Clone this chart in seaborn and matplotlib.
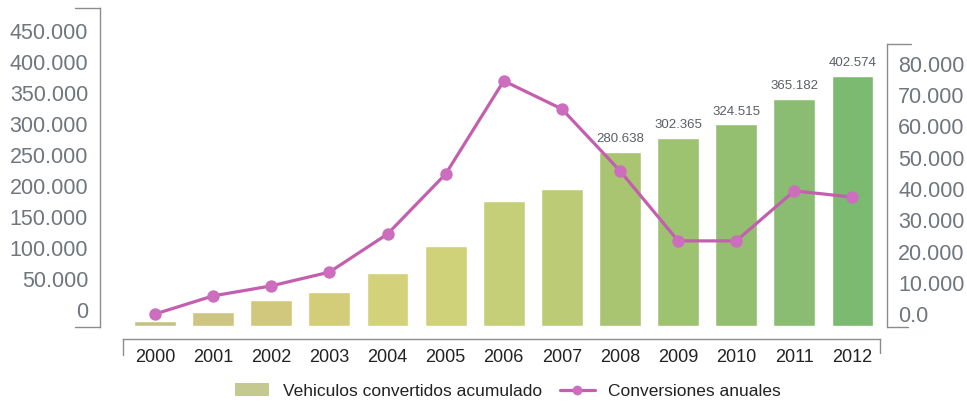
import matplotlib
matplotlib.use("Agg")
import matplotlib.pyplot as plt
from matplotlib.lines import Line2D
from matplotlib.patches import Patch
from matplotlib.ticker import FixedLocator, FuncFormatter
import matplotlib.transforms as mtransforms
import numpy as np
import pandas as pd
import seaborn as sns

# ---- data -----------------------------------------------------------------
years = ["2000", "2001", "2002", "2003", "2004", "2005", "2006",
         "2007", "2008", "2009", "2010", "2011", "2012"]
cumulative = [8000, 22500, 41900, 54800, 85300, 128800, 201800,
              220600, 280638, 302365, 324515, 365182, 402574]
annual = [0, 5800, 9000, 13400, 25600, 44800, 74600,
          65600, 45800, 23400, 23400, 39400, 37400]
labelled_years = ["2008", "2009", "2010", "2011", "2012"]

left_ticks = [0, 50000, 100000, 150000, 200000, 250000,
              300000, 350000, 400000, 450000]
right_ticks = [0, 10000, 20000, 30000, 40000, 50000, 60000, 70000, 80000]

bar_name = "Vehiculos convertidos acumulado"
line_name = "Conversiones anuales"

bar_colors = ["#c6c184", "#cfc582", "#d1c77d", "#d3cd7a", "#d3d27a",
              "#cfd279", "#c5cf78", "#bccc76", "#a9c572", "#9dc270",
              "#94bf70", "#8abd71", "#7bba70"]
legend_patch_color = "#c4c98f"
line_color = "#c35fae"
marker_color = "#cc6dbd"
tick_gray = "#6f767d"
frame_gray = "#8c8c8c"

df = pd.DataFrame({"year": years, "cumulative": cumulative, "annual": annual})

# ---- figure ---------------------------------------------------------------
sns.set_theme(style="white")
plt.rcParams["font.family"] = ["Liberation Sans", "DejaVu Sans"]

W, H, DPI = 967, 404, 100
fig = plt.figure(figsize=(W / DPI, H / DPI), dpi=DPI)

# axes frame in pixel terms
px_left, px_right, px_top, px_bottom = 100, 887, 8, 327
ax = fig.add_axes([px_left / W, 1 - px_bottom / H,
                   (px_right - px_left) / W, (px_bottom - px_top) / H])
ax.set_facecolor("none")

sns.barplot(data=df, x="year", y="cumulative", hue="year",
            palette=bar_colors, legend=False, width=0.72,
            saturation=1, ax=ax)

ax2 = ax.twinx()
sns.pointplot(data=df, x="year", y="annual", color=line_color,
              markers="o", markersize=7.2, linewidth=2.3, ax=ax2)
for ln in ax2.lines:
    ln.set_markerfacecolor(marker_color)
    ln.set_markeredgecolor(marker_color)

# scales
ax.set_xlim(-0.947, 12.594)
ax2.set_xlim(-0.947, 12.594)
ax.set_ylim(-1610, 512000)
ax2.set_ylim(-4160, 97920)

def es_thousands(v, zero="0"):
    if v == 0:
        return zero
    return f"{int(round(v)):,}".replace(",", ".")

ax.yaxis.set_major_locator(FixedLocator(left_ticks))
ax.yaxis.set_major_formatter(FuncFormatter(lambda v, p: es_thousands(v, "0")))
ax2.yaxis.set_major_locator(FixedLocator(right_ticks))
ax2.yaxis.set_major_formatter(FuncFormatter(lambda v, p: es_thousands(v, "0.0")))

ax.set_xlabel("")
ax.set_ylabel("")
ax2.set_xlabel("")
ax2.set_ylabel("")

ax.tick_params(axis="y", length=0, pad=8.6, labelsize=15.5, labelcolor=tick_gray)
ax2.tick_params(axis="y", length=0, pad=8, labelsize=15.5, labelcolor=tick_gray)
ax.tick_params(axis="x", length=0, pad=7, labelsize=13, labelcolor="#222222")
ax2.tick_params(axis="x", length=0, labelbottom=False)

# left labels sit a little above their gridline values
shift = mtransforms.ScaledTranslation(0, 16 / DPI, fig.dpi_scale_trans)
for lbl in ax.get_yticklabels():
    lbl.set_transform(lbl.get_transform() + shift)

# spines
for s in ["top", "right"]:
    ax.spines[s].set_visible(False)
for s in ["top", "left", "bottom"]:
    ax2.spines[s].set_visible(False)
ax.spines["left"].set_color(frame_gray)
ax.spines["left"].set_linewidth(1.0)
ax2.spines["right"].set_color(frame_gray)
ax2.spines["right"].set_linewidth(1.0)
ax2.spines["right"].set_bounds(-4160, 86400)
ax.spines["bottom"].set_color(frame_gray)
ax.spines["bottom"].set_linewidth(1.0)
ax.spines["bottom"].set_position(("outward", 12 * 0.72))
ax.spines["bottom"].set_bounds(-0.55, 12.48)

# bracket end caps
def fig_line(x0, y0, x1, y1):
    fig.add_artist(Line2D([x0 / W, x1 / W], [1 - y0 / H, 1 - y1 / H],
                          color=frame_gray, lw=1.0))

fig_line(75, px_top, px_left, px_top)
fig_line(75, px_bottom, px_left, px_bottom)
fig_line(px_right, 44, 911, 44)
fig_line(px_right, px_bottom, 908, px_bottom)
fig_line(123, 339, 123, 355)
fig_line(880, 339, 880, 353)

# value labels on the latest bars
bar_container = ax.containers
labels_all = []
for yr, v in zip(years, cumulative):
    labels_all.append(es_thousands(v) if yr in labelled_years else "")
patches = [c.patches[0] for c in bar_container] if len(bar_container) == len(years) else list(bar_container[0].patches)
for p, txt in zip(patches, labels_all):
    if txt:
        ax.annotate(txt, (p.get_x() + p.get_width() / 2, p.get_height()),
                    xytext=(0, 5), textcoords="offset points",
                    ha="center", va="bottom", fontsize=9.5, color="#5a5f66")

# legend
handles = [Patch(facecolor=legend_patch_color, edgecolor="none", label=bar_name),
           Line2D([0], [0], color=line_color, lw=2.3, marker="o",
                  markersize=6, markerfacecolor=marker_color,
                  markeredgecolor=marker_color, label=line_name)]
fig.legend(handles=handles, loc="center", bbox_to_anchor=(508 / W, 1 - 391 / H),
           ncol=2, frameon=False, fontsize=12.5, handlelength=2.0,
           handleheight=0.75, handletextpad=0.8, columnspacing=1.0,
           labelcolor="#222222")

fig.savefig("out.png", dpi=DPI)
